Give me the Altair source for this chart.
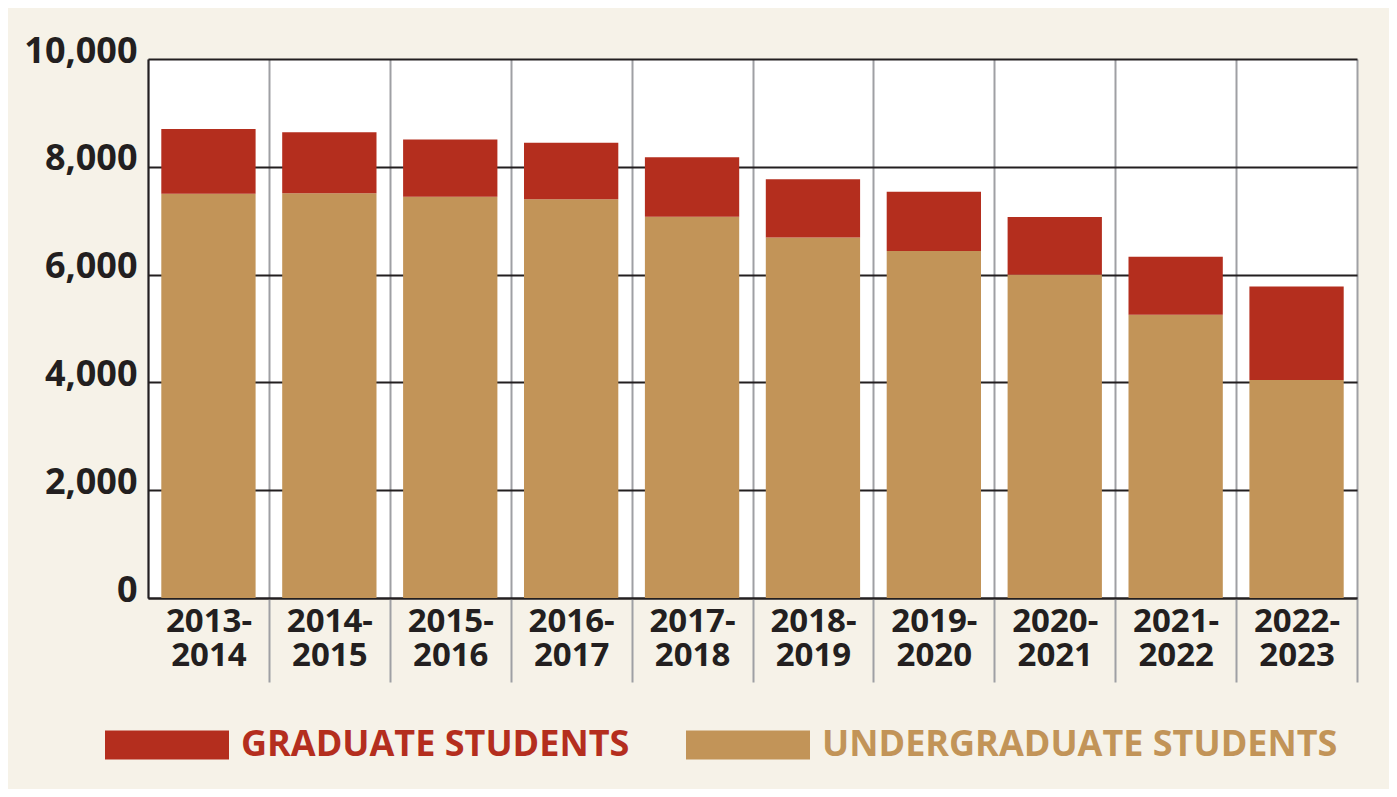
import altair as alt
import pandas as pd

years = ["2013-2014", "2014-2015", "2015-2016", "2016-2017", "2017-2018",
         "2018-2019", "2019-2020", "2020-2021", "2021-2022", "2022-2023"]
undergrad = [7500, 7510, 7445, 7400, 7075, 6690, 6440, 5995, 5255, 4045]
grad = [1200, 1130, 1060, 1045, 1100, 1080, 1095, 1075, 1075, 1735]
series = ["GRADUATE STUDENTS", "UNDERGRADUATE STUDENTS"]
colors = ["#B42E1E", "#C29458"]

rows = []
for y, u, g in zip(years, undergrad, grad):
    rows.append({"year": y, "group": series[1], "value": u, "ord": 0})
    rows.append({"year": y, "group": series[0], "value": g, "ord": 1})
df = pd.DataFrame(rows)

FONT = "Open Sans"
DARK = "#231F20"
GREY = "#9FA0A4"

chart = alt.Chart(df).mark_bar(width=alt.RelativeBandSize(0.78)).encode(
    x=alt.X("year:N", sort=years,
            scale=alt.Scale(paddingInner=0, paddingOuter=0),
            axis=alt.Axis(
                title=None,
                tickBand="extent",
                grid=True, gridColor=GREY, gridWidth=2,
                ticks=True, tickSize=84, tickWidth=2,
                tickColor={"condition": {"test": "datum.index < 0", "value": "transparent"}, "value": GREY},
                domainColor=DARK, domainWidth=2,
                labelAngle=0, labelFont=FONT, labelFontWeight="bold",
                labelFontSize=33, labelColor=DARK, labelBaseline="top",
                labelLineHeight=34, labelPadding=-77,
                labelExpr="[substring(datum.label, 0, 5), substring(datum.label, 5)]",
            )),
    y=alt.Y("value:Q", stack="zero",
            scale=alt.Scale(domain=[0, 10000], nice=False),
            axis=alt.Axis(
                title=None, values=[0, 2000, 4000, 6000, 8000, 10000], format=",.0f",
                grid=True, gridColor=DARK, gridWidth=2,
                ticks=False, domainColor=DARK, domainWidth=2,
                labelFont=FONT, labelFontWeight="bold", labelFontSize=36,
                labelColor=DARK, labelPadding=11, labelOffset=-8,
            )),
    color=alt.Color("group:N",
                    scale=alt.Scale(domain=series, range=colors),
                    legend=alt.Legend(
                        title=None, orient="none", direction="horizontal",
                        legendX=-43, legendY=624,
                        symbolType="M-1,-0.234H1V0.234H-1Z", symbolSize=15376,
                        symbolStrokeWidth=0, symbolOpacity=1,
                        labelFont=FONT, labelFontWeight="bold", labelFontSize=36,
                        labelLimit=800, labelOffset=12, columnPadding=56,
                        labelColor={"expr": "datum.value == 'GRADUATE STUDENTS' ? '#B42E1E' : '#C29458'"},
                        padding=0,
                    )),
    order=alt.Order("ord:Q"),
).properties(
    width=1209, height=539,
    padding={"left": 140, "top": 51, "right": 32, "bottom": 191},
    autosize=alt.AutoSizeParams(type="none"),
    background="#F6F2E8",
).configure_view(fill="white", stroke="transparent")

chart.save("out.html", embed_options={"renderer": "svg", "actions": False})
